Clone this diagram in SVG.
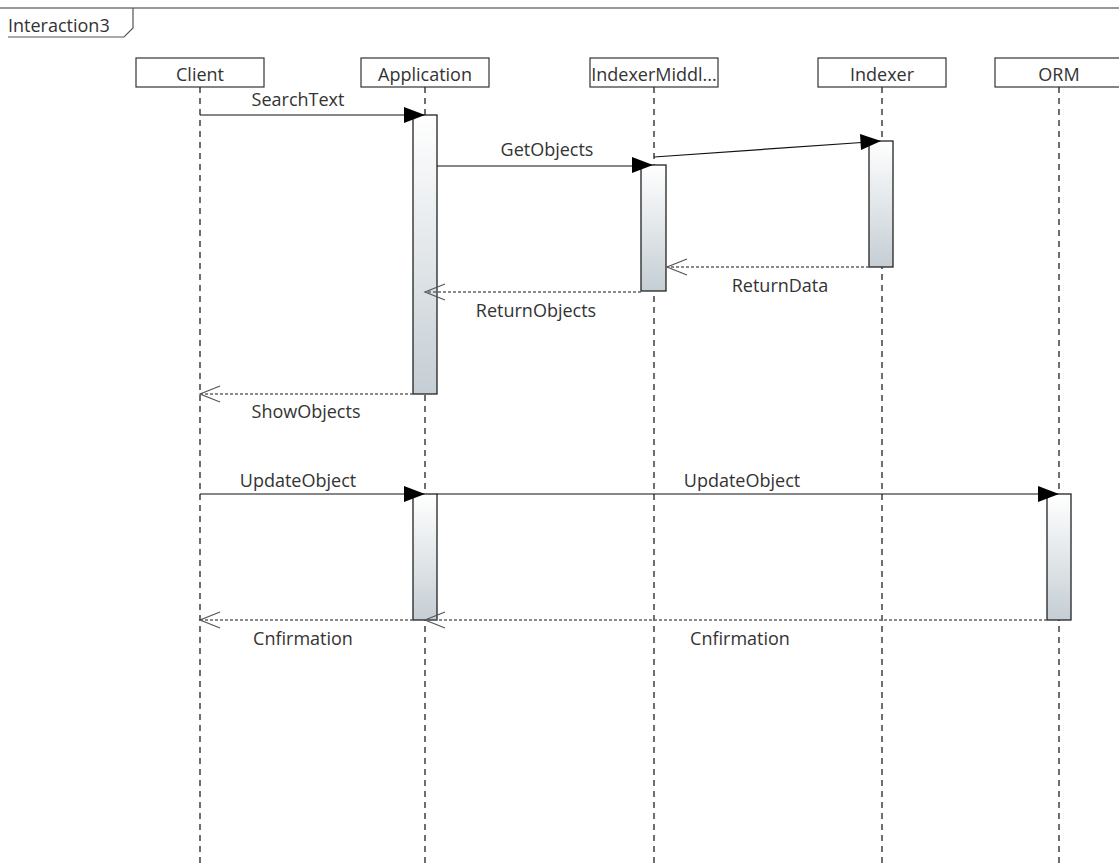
<svg xmlns="http://www.w3.org/2000/svg" width="1119" height="865" viewBox="0 0 1119 865">
<style>
.box{fill:#fff;stroke:#333;stroke-width:1.2}
.ll{stroke:#222;stroke-width:1.3;stroke-dasharray:6,5;fill:none}
.act{fill:url(#g);stroke:#222;stroke-width:1.3}
.msg{stroke:#111;stroke-width:1.2;fill:none}
.ret{stroke:#666;stroke-width:1.5;stroke-dasharray:3,2;fill:none}
.t{font-family:"Open Sans","Noto Sans",sans-serif;font-size:18px;fill:#333;text-anchor:middle}
.fa{fill:#000}
.oa{fill:none;stroke:#555;stroke-width:1.2}
</style>
<defs>
<linearGradient id="g" x1="0" y1="0" x2="0" y2="1">
<stop offset="0" stop-color="#ffffff"/>
<stop offset="1" stop-color="#c5ced4"/>
</linearGradient>
</defs>
<rect width="1119" height="865" fill="#fff"/>
<g id="frame">
<line x1="0" y1="8" x2="1119" y2="8" stroke="#333" stroke-width="1.2"/>
<path d="M133 8 V28 L124 37 H8" fill="none" stroke="#555" stroke-width="1.2"/>
<text x="8" y="32" font-family="'Open Sans','Noto Sans',sans-serif" font-size="18" fill="#333">Interaction3</text>
</g>
<g id="client"><line class="ll" x1="200" y1="87" x2="200" y2="865"/><rect class="box" x="136" y="58" width="128" height="29"/><text class="t" x="200" y="81">Client</text></g>
<g id="application"><line class="ll" x1="425" y1="87" x2="425" y2="865"/><rect class="box" x="361" y="58" width="128" height="29"/><text class="t" x="425" y="81">Application</text>
<rect class="act" x="413" y="115" width="24" height="279"/><rect class="act" x="413" y="494" width="24" height="126"/></g>
<g id="indexermiddleware"><line class="ll" x1="654" y1="87" x2="654" y2="865"/><rect class="box" x="590" y="58" width="128" height="29"/><text class="t" x="654" y="81">IndexerMiddl...</text>
<rect class="act" x="641" y="165" width="25" height="126"/></g>
<g id="indexer"><line class="ll" x1="882" y1="87" x2="882" y2="865"/><rect class="box" x="818" y="58" width="128" height="29"/><text class="t" x="882" y="81">Indexer</text>
<rect class="act" x="869" y="141" width="24" height="126"/></g>
<g id="orm"><line class="ll" x1="1059" y1="87" x2="1059" y2="865"/><rect class="box" x="995" y="58" width="128" height="29"/><text class="t" x="1059" y="81">ORM</text>
<rect class="act" x="1047" y="494" width="24" height="126"/></g>
<g id="connectors">
<line class="msg" x1="200" y1="115" x2="413" y2="115"/><path class="fa" d="M425 115 L404 107 L404 123 Z"/><text class="t" x="298" y="106">SearchText</text>
<line class="msg" x1="437" y1="166" x2="641" y2="166"/><path class="fa" d="M653 165 L632 157 L632 173 Z"/><text class="t" x="547" y="156">GetObjects</text>
<line class="msg" x1="654" y1="157" x2="869" y2="142"/><path class="fa" d="M881 141 L860 134 L861 150 Z"/>
<line class="ret" x1="869" y1="267" x2="667" y2="267"/><path class="oa" d="M687 259 L667 267 L687 275"/><text class="t" x="780" y="292">ReturnData</text>
<line class="ret" x1="641" y1="292" x2="425" y2="292"/><path class="oa" d="M445 284 L425 292 L445 300"/><text class="t" x="536" y="317">ReturnObjects</text>
<line class="ret" x1="413" y1="394" x2="200" y2="394"/><path class="oa" d="M220 386 L200 394 L220 402"/><text class="t" x="306" y="418">ShowObjects</text>
<line class="msg" x1="200" y1="494" x2="413" y2="494"/><path class="fa" d="M425 494 L404 486 L404 502 Z"/><text class="t" x="298" y="487">UpdateObject</text>
<line class="msg" x1="437" y1="494" x2="1047" y2="494"/><path class="fa" d="M1059 494 L1038 486 L1038 502 Z"/><text class="t" x="742" y="487">UpdateObject</text>
<line class="ret" x1="1047" y1="620" x2="425" y2="620"/><path class="oa" d="M445 612 L425 620 L445 628"/><text class="t" x="740" y="645">Cnfirmation</text>
<line class="ret" x1="413" y1="620" x2="200" y2="620"/><path class="oa" d="M220 612 L200 620 L220 628"/><text class="t" x="303" y="645">Cnfirmation</text>
</g>
</svg>
